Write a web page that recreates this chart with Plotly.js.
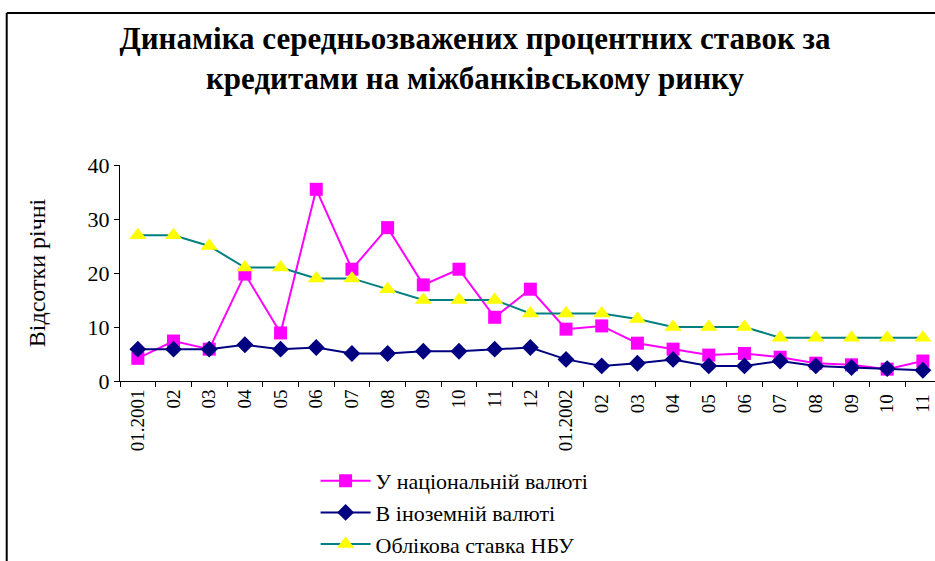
<!DOCTYPE html>
<html>
<head>
<meta charset="utf-8">
<script src="https://cdn.plot.ly/plotly-3.0.1.min.js"></script>
<style>html,body{margin:0;padding:0;background:#fff;}#chart{width:935px;height:561px;}</style>
</head>
<body>
<div id="chart"></div>
<script>
const categories = ["01.2001","02","03","04","05","06","07","08","09","10","11","12",
                    "01.2002","02 ","03 ","04 ","05 ","06 ","07 ","08 ","09 ","10 ","11 "];
const nationalCurrency = [4.2,7.4,5.9,19.8,8.9,35.5,20.7,28.4,17.8,20.7,11.8,17.0,
                          9.6,10.2,7.0,5.9,4.8,5.1,4.4,3.3,3.0,2.2,3.7];
const foreignCurrency = [5.9,5.9,5.9,6.7,5.9,6.2,5.1,5.1,5.5,5.5,5.9,6.2,
                         4.0,2.8,3.3,4.0,2.8,2.8,3.7,2.8,2.5,2.3,2.0];
const nbuRate = [27,27,25,21,21,19,19,17,15,15,15,12.5,
                 12.5,12.5,11.5,10,10,10,8,8,8,8,8];
const seriesNames = ["У національній валюті","В іноземній валюті","Облікова ставка НБУ"];

const font = "'Liberation Serif', 'DejaVu Serif', serif";
const traces = [
  {x: categories, y: nationalCurrency, name: seriesNames[0], type: "scatter", mode: "lines+markers",
   line: {color: "#FF00FF", width: 2}, marker: {symbol: "square", size: 13, color: "#FF00FF"}},
  {x: categories, y: foreignCurrency, name: seriesNames[1], type: "scatter", mode: "lines+markers",
   line: {color: "#000080", width: 2}, marker: {symbol: "diamond", size: 13, color: "#000080"}},
  {x: categories, y: nbuRate, name: seriesNames[2], type: "scatter", mode: "lines+markers",
   line: {color: "#008080", width: 2}, marker: {symbol: "triangle-up", size: 15, color: "#FFFF00"}}
];

const layout = {
  width: 935, height: 561,
  margin: {l: 120, r: 0, t: 165, b: 180},
  paper_bgcolor: "#fff", plot_bgcolor: "#fff",
  font: {family: font, color: "#000"},
  showlegend: true,
  title: {text: "Динаміка середньозважених процентних ставок за<br>кредитами на міжбанківському ринку",
          font: {family: font, size: 31, color: "#000", weight: "bold"},
          xref: "container", x: 0.508, xanchor: "center",
          yref: "container", y: 0.913, yanchor: "middle"},
  xaxis: {type: "category", range: [-0.5, 22.34], showgrid: false, zeroline: false,
          showline: true, linecolor: "#000", linewidth: 1,
          ticks: "outside", tickson: "boundaries", ticklen: 5, tickcolor: "#000",
          tickangle: -90, tickfont: {family: font, size: 19, color: "#000"}},
  yaxis: {range: [0, 40], tickvals: [0,10,20,30,40], showgrid: false, zeroline: false,
          showline: true, linecolor: "#000", linewidth: 1,
          ticks: "outside", ticklen: 5, tickcolor: "#000",
          tickfont: {family: font, size: 22, color: "#000"},
          title: {text: "Відсотки річні", font: {family: font, size: 24, color: "#000"}, standoff: 35}},
  legend: {xref: "paper", yref: "container", x: 0.24, xanchor: "left", y: 0.18, yanchor: "top",
           orientation: "v",
           font: {family: font, size: 22, color: "#000"}, bgcolor: "rgba(0,0,0,0)",
           tracegroupgap: 0, itemwidth: 50},
  shapes: [
    {type: "line", xref: "paper", yref: "paper", x0: -0.139, x1: -0.139, y0: -0.84, y1: 1.7037,
     line: {color: "#000", width: 2}},
    {type: "line", xref: "paper", yref: "paper", x0: -0.139, x1: 1.0, y0: 1.7037, y1: 1.7037,
     line: {color: "#000", width: 2}}
  ]
};

Plotly.newPlot("chart", traces, layout, {displayModeBar: false, staticPlot: true});
</script>
</body>
</html>
